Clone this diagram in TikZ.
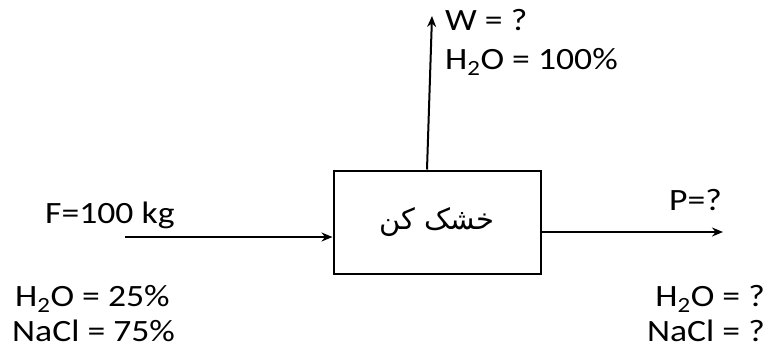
\documentclass[tikz,border=0pt]{standalone}
\usepackage{fontspec}
\setmainfont[FakeStretch=1.15]{Carlito}
\newfontfamily\persianfont[Script=Arabic]{DejaVu Sans}
\TeXXeTstate=1
\usetikzlibrary{arrows.meta}
\newcommand{\htwoo}{H\textsubscript{2}O}
\begin{document}
\begin{tikzpicture}[x=1pt, y=-1pt, unit/.style={draw, line width=2pt, minimum width=207pt, minimum height=103pt}, stream/.style={line width=2pt, -{Stealth[length=11pt, width=9pt]}}, label/.style={inner sep=0pt, font=\fontsize{31}{36}\selectfont}]
%	\draw[help lines] (0,0) grid[step=50] (768,349);
	\useasboundingbox (0,0) rectangle (768,349);
	\node[unit] (dryer) at (437,222) {\fontsize{29}{34}\selectfont\persianfont\beginR خشک کن\endR};
	\coordinate (feed) at (125,237);
	\coordinate (product) at (723,232);
	\coordinate (vapour) at (432,16);
	\draw[stream] (feed) -- (feed -| dryer.west);
	\draw[stream] (dryer.east |- product) -- (product);
	\draw[stream] ([xshift=-10pt]dryer.north) -- (vapour);
	\node[label, anchor=west] (w label) at (445,20) {W = ?};
	\node[label, anchor=west] (w water) at (445,62) {\htwoo{} = 100\%};
	\node[label, anchor=west] (f label) at (45,215) {F=100 kg};
	\node[label, anchor=west] (f water) at (15,299) {\htwoo{} = 25\%};
	\node[label, anchor=base west] (f salt) at (12,341) {NaCl = 75\%};
	\node[label, anchor=east] (p label) at (722,200) {P=?};
	\node[label, anchor=east] (p water) at (765,299) {\htwoo{} = ?};
	\node[label, anchor=base east] (p salt) at (765,341) {NaCl = ?};
\end{tikzpicture}
\end{document}
